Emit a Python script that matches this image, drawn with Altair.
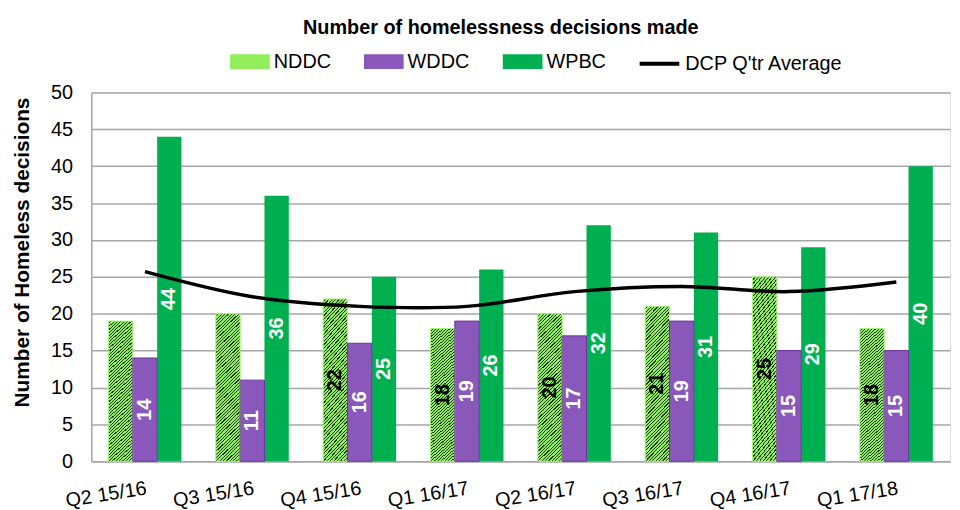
import altair as alt
import pandas as pd

# ---- data ----
quarters = ["Q2 15/16", "Q3 15/16", "Q4 15/16", "Q1 16/17",
            "Q2 16/17", "Q3 16/17", "Q4 16/17", "Q1 17/18"]
series_names = ["NDDC", "WDDC", "WPBC"]
nddc = [19, 20, 22, 18, 20, 21, 25, 18]
wddc = [14, 11, 16, 19, 17, 19, 15, 15]
wpbc = [44, 36, 25, 26, 32, 31, 29, 40]
nddc_labels = ["", "", "22", "18", "20", "21", "25", "18"]
wddc_labels = ["14", "11", "16", "19", "17", "19", "15", "15"]
wpbc_labels = ["44", "36", "25", "26", "32", "31", "29", "40"]
dcp_avg = [25.7, 22.3, 21.0, 21.0, 23.0, 23.7, 23.0, 24.3]
y_ticks = [0, 5, 10, 15, 20, 25, 30, 35, 40, 45, 50]
line_name = "DCP Q'tr Average"

rows = []
for s, vals, labs in zip(series_names, [nddc, wddc, wpbc],
                         [nddc_labels, wddc_labels, wpbc_labels]):
    for q, v, l in zip(quarters, vals, labs):
        rows.append({"quarter": q, "series": s, "value": v, "label": l})
bars_df = pd.DataFrame(rows)
line_df = pd.DataFrame({"quarter": quarters, "avg": dcp_avg, "name": line_name})

FONT = "Liberation Sans"
GREEN_LIGHT = "#93EE5C"
PURPLE = "#8A58BA"
GREEN = "#00B050"
GRID = "#A6A6A6"

# diagonal hatch overlay (transparent / dark stripes)
n_stripes = 52
period = 1.0 / n_stripes
stops = []
clear = "rgba(0,0,0,0)"
dark = "rgba(20,40,10,0.92)"
for i in range(n_stripes):
    a = round(i * period, 5)
    b = round(a + period * 0.66, 5)
    c = round(min((i + 1) * period, 1.0), 5)
    stops += [{"offset": a, "color": clear}, {"offset": b, "color": clear},
              {"offset": b, "color": dark}, {"offset": c, "color": dark}]
hatch_fill = {"gradient": "linear", "x1": 0, "y1": 0, "x2": 0.182, "y2": 1.132,
              "stops": stops}

x_axis = alt.Axis(labelAngle=-9, labelAlign="right", labelBaseline="top",
                  labelPadding=17, labelFontSize=20, labelFont=FONT,
                  labelColor="black", ticks=False, domainColor=GRID,
                  domainWidth=1.5, grid=False)
x_scale = alt.Scale(paddingInner=0.32, paddingOuter=0.16)
x_enc = alt.X("quarter:N", sort=quarters, title=None, scale=x_scale, axis=x_axis)
xoff_enc = alt.XOffset("series:N", sort=series_names,
                       scale=alt.Scale(paddingInner=0, paddingOuter=0))
y_scale = alt.Scale(domain=[0, 50], nice=False)
y_axis = alt.Axis(values=y_ticks, labelOverlap=False,
                  titleFontSize=21, titleFont=FONT, titleFontWeight="bold",
                  titleColor="black", titleX=-69, titleY=161, titleBaseline="middle",
                  labelFontSize=20, labelFont=FONT, labelColor="black",
                  labelPadding=19, ticks=False, domainColor=GRID,
                  domainWidth=1.5, grid=True, gridColor=GRID, gridWidth=1.5)
Y_TITLE = "Number of Homeless decisions"


def y_enc(field):
    return alt.Y(field, type="quantitative", scale=y_scale, axis=y_axis, title=Y_TITLE)


base = alt.Chart(bars_df)

bars = base.mark_bar().encode(
    x=x_enc,
    xOffset=xoff_enc,
    y=y_enc("value"),
    color=alt.Color("series:N", sort=series_names,
                    scale=alt.Scale(domain=series_names,
                                    range=[GREEN_LIGHT, PURPLE, GREEN]),
                    legend=alt.Legend(title=None, orient="none", legendX=140,
                                      legendY=-51, direction="horizontal",
                                      symbolType="M-1,-0.375H1V0.375H-1Z",
                                      symbolSize=1600, symbolStrokeWidth=0,
                                      symbolOpacity=1,
                                      labelFontSize=20, labelFont=FONT,
                                      labelColor="black", labelOffset=4,
                                      columnPadding=33, padding=0)),
)

hatch = base.transform_filter(alt.datum.series == "NDDC").mark_bar(
    fill=hatch_fill, stroke="#A6F57E", strokeWidth=1
).encode(x=x_enc, xOffset=xoff_enc, y=y_enc("value"))

wddc_edge = base.transform_filter(alt.datum.series == "WDDC").mark_bar(
    fillOpacity=0, stroke="#7030A0", strokeWidth=1
).encode(x=x_enc, xOffset=xoff_enc, y=y_enc("value"))

labels = base.transform_filter(alt.datum.label != "").transform_calculate(
    mid="datum.value / 2"
).mark_text(angle=270, fontSize=20, fontWeight="bold", font=FONT,
            align="center", baseline="middle").encode(
    x=x_enc,
    xOffset=xoff_enc,
    y=y_enc("mid"),
    text="label:N",
    color=alt.condition(alt.datum.series == "NDDC", alt.value("black"),
                        alt.value("white")),
)

line = alt.Chart(line_df).mark_line(interpolate="catmull-rom", strokeWidth=3.5).encode(
    x=x_enc,
    y=y_enc("avg"),
    stroke=alt.Stroke("name:N", scale=alt.Scale(domain=[line_name], range=["black"]),
                      legend=alt.Legend(title=None, orient="none", legendX=551,
                                        legendY=-51, symbolType="stroke",
                                        symbolSize=1600, symbolStrokeWidth=4,
                                        labelFontSize=20, labelFont=FONT,
                                        labelColor="black", labelOffset=4,
                                        padding=0)),
)

chart = alt.layer(bars, hatch, wddc_edge, labels, line).properties(
    width=866,
    height=372,
    autosize=alt.AutoSizeParams(type="none"),
    padding={"left": 84, "top": 83, "right": 2, "bottom": 47},
    title=alt.TitleParams("Number of homelessness decisions made", fontSize=20,
                          fontWeight="bold", font=FONT, color="black",
                          anchor="middle", frame="group", offset=9, dy=21,
                          baseline="alphabetic", dx=-20),
).configure_view(stroke=None).configure(background="white")

chart.save("out.html", embed_options={"renderer": "svg", "actions": False})
